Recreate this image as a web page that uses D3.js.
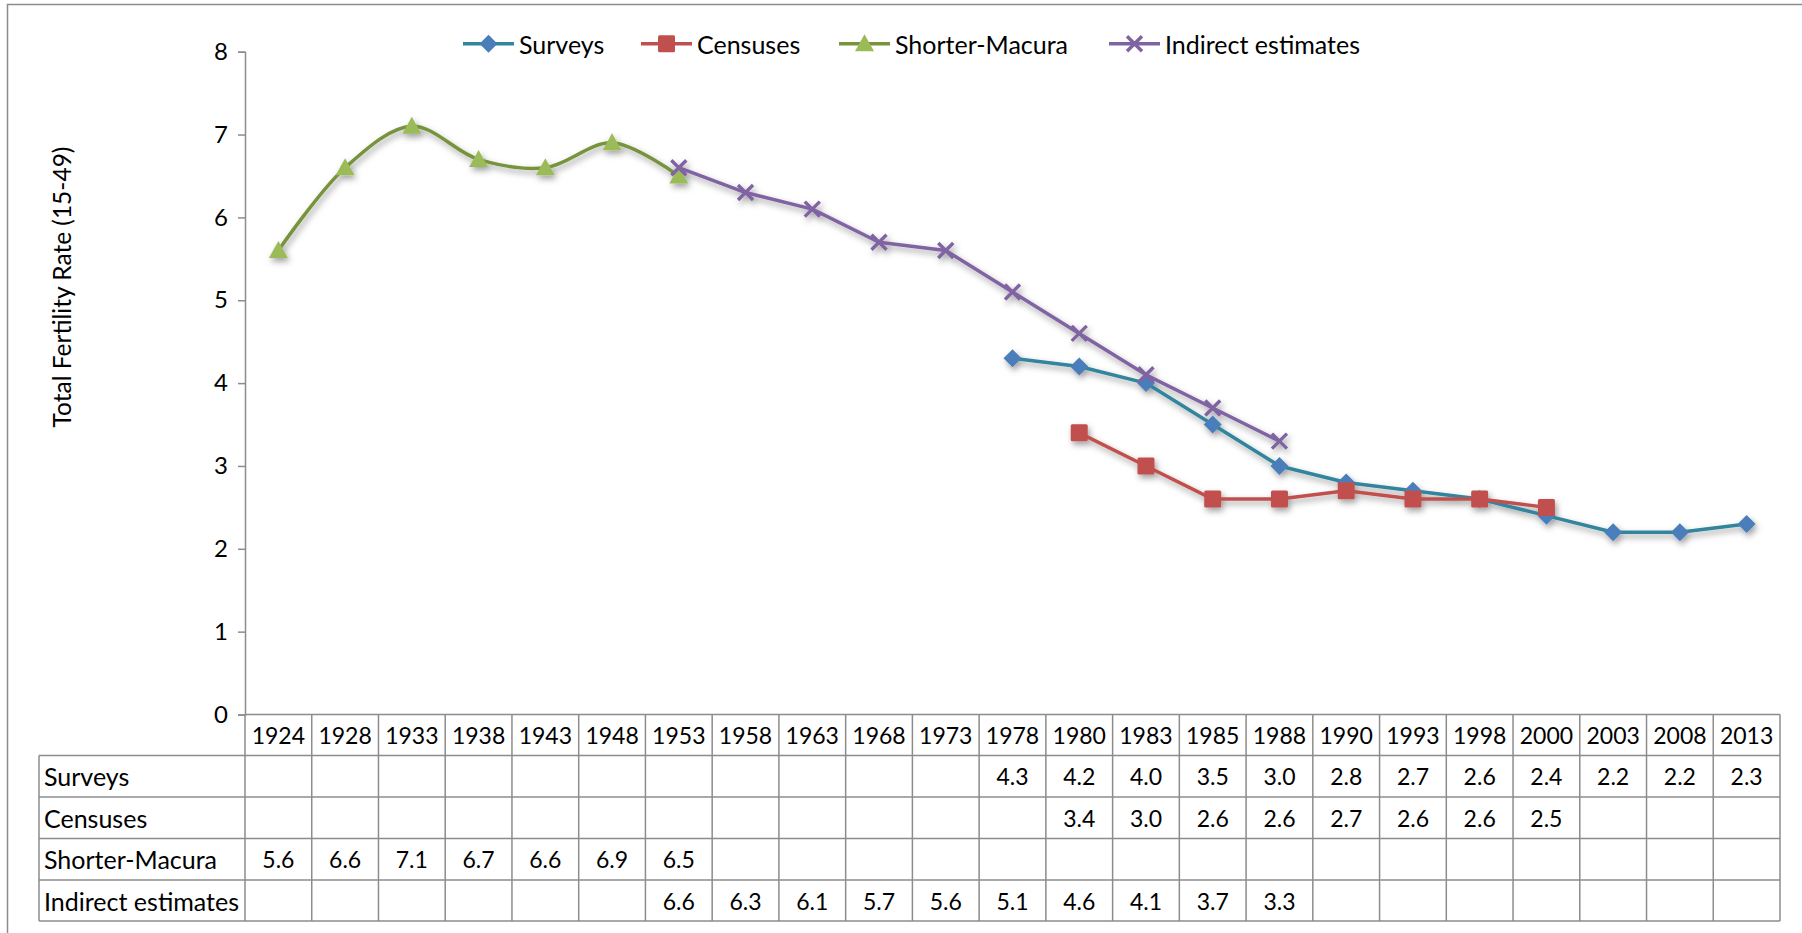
<!DOCTYPE html>
<html>
<head>
<meta charset="utf-8">
<script src="https://cdn.jsdelivr.net/npm/d3@7"></script>
<style>
  html, body { margin: 0; padding: 0; background: #fff; }
  svg { display: block; }
  text { font-family: Lato, "Open Sans", sans-serif; fill: #000; }
</style>
</head>
<body>
<svg id="chart" width="1802" height="933"></svg>
<script>
// Years on the category axis
const years = ["1924","1928","1933","1938","1943","1948","1953","1958","1963","1968","1973",
               "1978","1980","1983","1985","1988","1990","1993","1998","2000","2003","2008","2013"];

// Total fertility rate by source (null = no estimate for that year)
const surveys   = [null,null,null,null,null,null,null,null,null,null,null,
                   4.3,4.2,4.0,3.5,3.0,2.8,2.7,2.6,2.4,2.2,2.2,2.3];
const censuses  = [null,null,null,null,null,null,null,null,null,null,null,
                   null,3.4,3.0,2.6,2.6,2.7,2.6,2.6,2.5,null,null,null];
const shorterMacura = [5.6,6.6,7.1,6.7,6.6,6.9,6.5,null,null,null,null,
                   null,null,null,null,null,null,null,null,null,null,null,null];
const indirect  = [null,null,null,null,null,null,6.6,6.3,6.1,5.7,5.6,
                   5.1,4.6,4.1,3.7,3.3,null,null,null,null,null,null,null];

const seriesNames = ["Surveys","Censuses","Shorter-Macura","Indirect estimates"];
const yTicks = [0,1,2,3,4,5,6,7,8];

const series = [
  { name: seriesNames[0], values: surveys,       line: "#31859C", fill: "#4A7EBB", marker: "diamond",  smooth: false },
  { name: seriesNames[1], values: censuses,      line: "#C0504D", fill: "#C0504D", marker: "square",   smooth: false },
  { name: seriesNames[2], values: shorterMacura, line: "#77933C", fill: "#9BBB59", marker: "triangle", smooth: true  },
  { name: seriesNames[3], values: indirect,      line: "#8064A2", fill: "#8064A2", marker: "cross",    smooth: false }
];

const svg = d3.select("#chart");
const gridColor = "#8C8C8C";

// Layout
const plotLeft = 245, plotRight = 1780, plotTop = 51.7, plotBottom = 714.5;
const tableLeft = 39;
const rowTops = [714.5, 755.5, 797, 838.5, 880, 921];

const x = d3.scaleBand().domain(years).range([plotLeft, plotRight]).paddingInner(0).paddingOuter(0);
const xc = d => x(d) + x.bandwidth() / 2;
const y = d3.scaleLinear().domain([0, 8]).range([plotBottom, plotTop]);

// Drop shadow used by the series lines and markers
const defs = svg.append("defs");
const f = defs.append("filter").attr("id", "shadow")
  .attr("x", "-20%").attr("y", "-20%").attr("width", "140%").attr("height", "140%");
f.append("feDropShadow").attr("dx", 2).attr("dy", 3.5).attr("stdDeviation", 3)
  .attr("flood-color", "#000").attr("flood-opacity", 0.38);

// Outer chart frame
svg.append("rect").attr("x", 7.5).attr("y", 4.5).attr("width", 1900).attr("height", 1000)
  .attr("fill", "none").attr("stroke", gridColor).attr("stroke-width", 1.5);

// Y axis
const yAxis = d3.axisLeft(y).tickValues(yTicks).tickSize(7).tickPadding(10).tickFormat(d3.format("d"));
const yg = svg.append("g").attr("transform", `translate(${plotLeft},0)`).call(yAxis);
yg.select(".domain").attr("stroke", gridColor).attr("stroke-width", 1.5);
yg.selectAll(".tick line").attr("stroke", gridColor).attr("stroke-width", 1.5);
yg.selectAll(".tick text").attr("font-size", 24).attr("font-family", "Lato, sans-serif").attr("fill", "#000");

svg.append("text")
  .attr("transform", "translate(65,287) rotate(-90)")
  .attr("text-anchor", "middle").attr("dominant-baseline", "middle")
  .attr("font-size", 24.5)
  .text("Total Fertility Rate (15-49)");

// Data table below the plot
const table = svg.append("g").attr("stroke", gridColor).attr("stroke-width", 1.5);
// horizontal rules
table.append("line").attr("x1", plotLeft).attr("x2", plotRight).attr("y1", rowTops[0]).attr("y2", rowTops[0]);
rowTops.slice(1).forEach(t => {
  table.append("line").attr("x1", tableLeft).attr("x2", plotRight).attr("y1", t).attr("y2", t);
});
// vertical rules
table.append("line").attr("x1", tableLeft).attr("x2", tableLeft).attr("y1", rowTops[1]).attr("y2", rowTops[5]);
years.forEach(yr => {
  table.append("line").attr("x1", x(yr)).attr("x2", x(yr)).attr("y1", rowTops[0]).attr("y2", rowTops[5]);
});
table.append("line").attr("x1", plotRight).attr("x2", plotRight).attr("y1", rowTops[0]).attr("y2", rowTops[5]);

// header: years
svg.append("g").selectAll("text").data(years).join("text")
  .attr("x", d => xc(d)).attr("y", (rowTops[0] + rowTops[1]) / 2)
  .attr("text-anchor", "middle").attr("dominant-baseline", "central")
  .attr("font-size", 23).text(d => d);

// body rows
series.forEach((s, i) => {
  const cy = (rowTops[i + 1] + rowTops[i + 2]) / 2;
  svg.append("text").attr("x", tableLeft + 5).attr("y", cy)
    .attr("dominant-baseline", "central").attr("font-size", 25).text(s.name);
  svg.append("g").selectAll("text").data(years.map((yr, j) => ({ yr, v: s.values[j] })).filter(d => d.v != null))
    .join("text")
    .attr("x", d => xc(d.yr)).attr("y", cy)
    .attr("text-anchor", "middle").attr("dominant-baseline", "central")
    .attr("font-size", 23).text(d => d.v.toFixed(1));
});

// Marker shapes
function drawMarker(g, type, fill, cx, cy) {
  if (type === "diamond") {
    g.append("path").attr("d", `M${cx},${cy-9}L${cx+9},${cy}L${cx},${cy+9}L${cx-9},${cy}Z`).attr("fill", fill);
  } else if (type === "square") {
    g.append("rect").attr("x", cx - 8.5).attr("y", cy - 8.5).attr("width", 17).attr("height", 17).attr("rx", 1.5).attr("fill", fill);
  } else if (type === "triangle") {
    g.append("path").attr("d", `M${cx},${cy-9.5}L${cx+9.5},${cy+7.5}L${cx-9.5},${cy+7.5}Z`).attr("fill", fill);
  } else if (type === "cross") {
    g.append("path").attr("d", `M${cx-7.5},${cy-7.5}L${cx+7.5},${cy+7.5}M${cx-7.5},${cy+7.5}L${cx+7.5},${cy-7.5}`)
      .attr("stroke", fill).attr("stroke-width", 3.4).attr("fill", "none");
  }
}

// Series lines and markers
const plot = svg.append("g").attr("filter", "url(#shadow)");
series.forEach(s => {
  const pts = years.map((yr, j) => ({ yr, v: s.values[j] })).filter(d => d.v != null);
  const line = d3.line().x(d => xc(d.yr)).y(d => y(d.v))
    .curve(s.smooth ? d3.curveCatmullRom.alpha(0.5) : d3.curveLinear);
  const g = plot.append("g");
  g.append("path").datum(pts).attr("d", line)
    .attr("fill", "none").attr("stroke", s.line).attr("stroke-width", 3.5).attr("stroke-linejoin", "round");
  pts.forEach(p => drawMarker(g, s.marker, s.fill, xc(p.yr), y(p.v)));
});

// Legend
const legendX = [463, 641, 839, 1109];
const legendY = 43.7;
const legend = svg.append("g");
series.forEach((s, i) => {
  const g = legend.append("g");
  g.append("line").attr("x1", legendX[i]).attr("x2", legendX[i] + 51).attr("y1", legendY).attr("y2", legendY)
    .attr("stroke", s.line).attr("stroke-width", 3.5);
  drawMarker(g, s.marker, s.fill, legendX[i] + 25.5, legendY);
  legend.append("text").attr("x", legendX[i] + 56).attr("y", legendY)
    .attr("dominant-baseline", "central").attr("font-size", 25).text(s.name);
});
</script>
</body>
</html>
